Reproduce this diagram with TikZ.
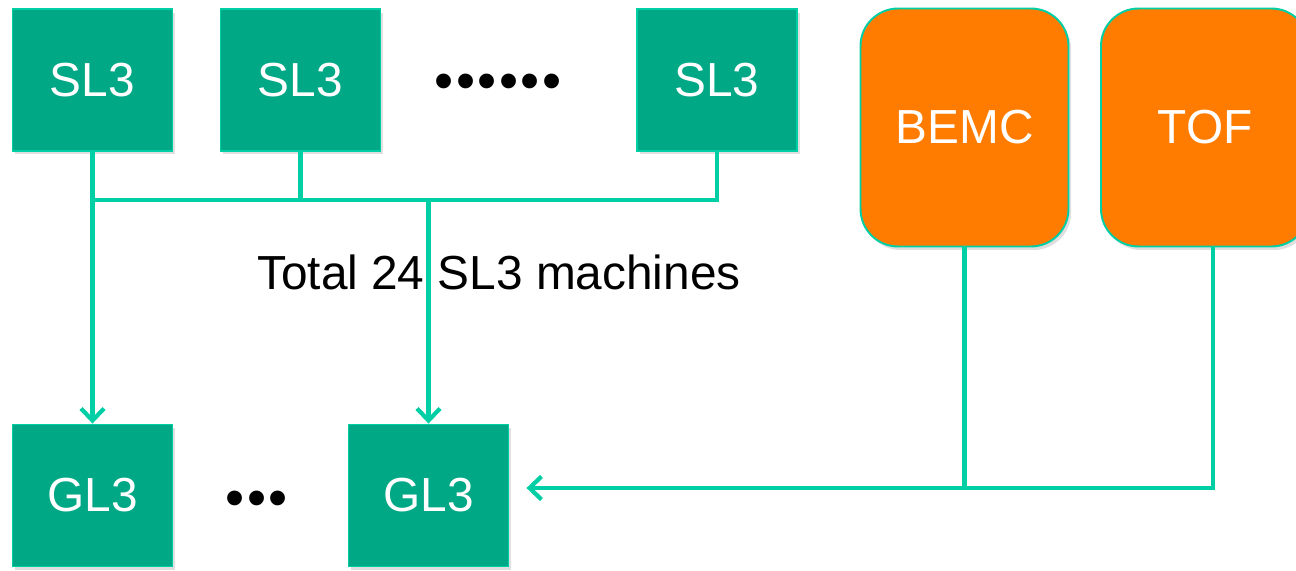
\documentclass[tikz,border=0pt]{standalone}
\usepackage{fontspec}
\setmainfont{Liberation Sans}
\usetikzlibrary{arrows.meta,shadows}

\definecolor{SlotGreen}{RGB}{0,168,134}
\definecolor{WireGreen}{RGB}{0,206,164}
\definecolor{DetOrange}{RGB}{255,124,0}

\newcommand{\dotgap}{\hspace{0.05cm}}% gap between the bullets

\tikzset{
  pcbox/.style={draw=WireGreen,line width=1.1pt,fill=SlotGreen,text=white,
    minimum width=3.2cm,minimum height=2.84cm,inner sep=0pt,
    font=\fontsize{27.2}{32}\selectfont,
    drop shadow={opacity=0.25,shadow xshift=1.5pt,shadow yshift=-2pt}},
  detbox/.style={pcbox,fill=DetOrange,rounded corners=0.75cm,
    minimum width=4.16cm,minimum height=4.76cm},
  wire/.style={draw=WireGreen,line width=2.4pt},
  feed/.style={wire,-{Straight Barb[length=2.4mm,width=4.6mm]}},
  dots/.style={inner sep=0pt,font=\fontsize{31}{34}\selectfont}
}

\begin{document}
\begin{tikzpicture}[x=0.02cm,y=-0.02cm]
  \useasboundingbox (0,0) rectangle (1296,571);
  % sub level 3
  \node[pcbox] (sl3a) at (92.5,80) {SL3};
  \node[pcbox] (sl3b) at (300.5,80) {SL3};
  \node[dots]  (sldots) at (498,87.2) {•\dotgap•\dotgap•\dotgap•\dotgap•\dotgap•};
  \node[pcbox] (sl3c) at (717,80) {SL3};
  % detectors
  \node[detbox] (bemc) at (964.5,127.5) {BEMC};
  \node[detbox] (tof) at (1205,127.5) {TOF};
  % global level 3
  \node[pcbox] (gl3a) at (92.5,495.5) {GL3};
  \node[dots]  (gldots) at (257,503.5) {•\dotgap•\dotgap•};
  \node[pcbox] (gl3b) at (428.5,495.5) {GL3};
  \node[font=\fontsize{27.2}{32}\selectfont] (total) at (499,272) {Total 24 SL3 machines};

  \coordinate (bus) at (0,200);
  \coordinate (rbus) at (0,488);
  \coordinate (tofout) at ([xshift=0.16cm]tof.south);
  \draw[wire] (sl3a.south) -- (sl3a.south |- bus) -- (sl3c.south |- bus) -- (sl3c.south);
  \draw[wire] (sl3b.south) -- (sl3b.south |- bus);
  \draw[feed] (sl3a.south |- bus) -- (sl3a.south |- gl3a.north);
  \draw[feed] (gl3b.north |- bus) -- (gl3b.north);
  \draw[wire] (bemc.south) -- (bemc.south |- rbus);
  \draw[feed,shorten >=0.34cm] (tofout) -- (tofout |- rbus) -- (gl3b.east |- rbus);
\end{tikzpicture}
\end{document}
